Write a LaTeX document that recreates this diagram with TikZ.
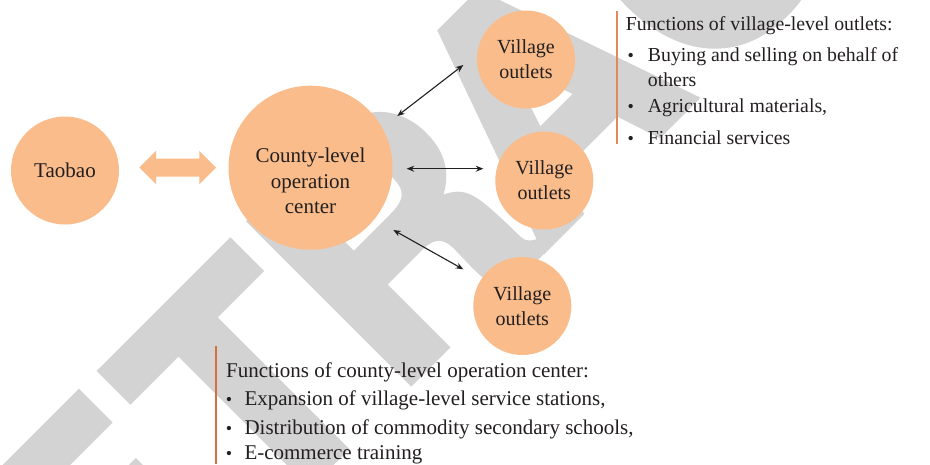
\documentclass[tikz,border=0pt]{standalone}
\usepackage{fontspec}
\setmainfont{Liberation Serif}
\newfontfamily\stampfont{TeX Gyre Heros}[BoldFeatures={FakeBold=3}]
\usetikzlibrary{arrows.meta}

\definecolor{peach}{RGB}{249,188,138}
\definecolor{rule}{RGB}{214,112,58}
\definecolor{rulelight}{RGB}{222,138,90}
\definecolor{stampgray}{RGB}{211,211,211}
\definecolor{ink}{RGB}{35,31,32}

\tikzset{
  hub/.style={circle, fill=peach, draw=none, minimum size=164pt, inner sep=0pt},
  leaf/.style={circle, fill=peach, draw=none, minimum size=98pt, inner sep=0pt,
    align=center, text=ink, font=\fontsize{20}{25}\selectfont},
  site/.style={circle, fill=peach, draw=none, minimum size=108pt, inner sep=0pt,
    text=ink, font=\fontsize{21}{25}\selectfont},
  hubtext/.style={align=center, text=ink, inner sep=0pt, font=\fontsize{21}{25.5}\selectfont},
  link/.style={line width=1.1pt, draw=ink, {Stealth[length=7.5pt,width=6pt]}-{Stealth[length=7.5pt,width=6pt]}},
  listline/.style={anchor=base west, inner sep=0pt, text=ink, font=\fontsize{19.8}{25}\selectfont},
  listlinebig/.style={listline, font=\fontsize{21}{25}\selectfont},
  dot/.style={anchor=base, inner sep=0pt, text=ink, font=\fontsize{18}{25}\selectfont},
  sidebar/.style={line width=1.7pt},
  stamp/.style={anchor=base west, rotate=45, inner sep=0pt, text=stampgray,
    font=\stampfont\bfseries\fontsize{308}{308}\selectfont}
}

\begin{document}
\begin{tikzpicture}[x=1pt, y=-1pt]
  \useasboundingbox (0,0) rectangle (930,464);
  \fill[white] (0,0) rectangle (930,464);

  % watermark lettering behind the diagram, one letter per node along a 45 degree baseline
  \begin{scope}
    \clip (0,0) rectangle (930,464);
    \node[stamp] (wmE) at (105.5,686.2) {E};
    \node[stamp] (wmT) at (258.8,532.9) {T};
    \node[stamp] (wmR) at (393.7,397.7) {R};
    \node[stamp] (wmA) at (539.4,252.3) {A};
    \node[stamp] (wmC) at (699.5,92.2) {C};
  \end{scope}

  % nodes
  \node[site] (tb) at (65,170.5) {Taobao};
  \node[hub] (cc) at (310.5,167.7) {};
  \node[hubtext] (cct) at (310.5,181) {County-level\\operation\\center};
  \node[leaf] (v1) at (526,59.5) {Village\\outlets};
  \node[leaf] (v2) at (544.3,180.5) {Village\\outlets};
  \node[leaf] (v3) at (522.3,306) {Village\\outlets};

  % broad two-way arrow between Taobao and the county centre
  \coordinate (hl) at (139.3,167.5);
  \coordinate (hr) at (216,167.5);
  \fill[peach] (hl) -- ++(16.7,-16.7) -- ++(0,7.7) -- ++(43.3,0) -- ++(0,-7.7)
    -- (hr) -- ++(-16.7,16.7) -- ++(0,-7.7) -- ++(-43.3,0) -- ++(0,7.7) -- cycle;

  % thin two-way links to the village outlets
  \coordinate (a1s) at (397.3,116);
  \coordinate (a1e) at (463.3,65);
  \coordinate (a2s) at (406.7,168.7);
  \coordinate (a2e) at (483.3,168.7);
  \coordinate (a3s) at (393.3,230);
  \coordinate (a3e) at (463.3,269.3);
  \draw[link] (a1s) -- (a1e);
  \draw[link] (a2s) -- (a2e);
  \draw[link] (a3s) -- (a3e);

  % functions of the village-level outlets
  \coordinate (r1t) at (617.3,11);
  \coordinate (r1b) at (617.3,144);
  \draw[sidebar, draw=rulelight] (r1t) -- (r1b);
  \node[listline] (vt) at (625.7,30.7) {Functions of village-level outlets:};
  \node[dot] (vb1) at (630.7,61.7) {\textbullet};
  \node[listline] (vl1) at (647.7,61.7) {Buying and selling on behalf of};
  \node[listline] (vl1b) at (647.7,86.7) {others};
  \node[dot] (vb2) at (630.7,112.7) {\textbullet};
  \node[listline] (vl2) at (647.7,112.7) {Agricultural materials,};
  \node[dot] (vb3) at (630.7,144.3) {\textbullet};
  \node[listline] (vl3) at (647.7,144.3) {Financial services};

  % functions of the county-level operation center
  \coordinate (r2t) at (216,345.7);
  \coordinate (r2b) at (216,464);
  \draw[sidebar, draw=rule] (r2t) -- (r2b);
  \node[listlinebig] (ct) at (226,377.3) {Functions of county-level operation center:};
  \node[dot] (cb1) at (229,405.7) {\textbullet};
  \node[listlinebig] (cl1) at (244.3,405.7) {Expansion of village-level service stations,};
  \node[dot] (cb2) at (229,434.3) {\textbullet};
  \node[listlinebig] (cl2) at (244.3,434.3) {Distribution of commodity secondary schools,};
  \node[dot] (cb3) at (229,459) {\textbullet};
  \node[listlinebig] (cl3) at (244.3,459) {E-commerce training};
\end{tikzpicture}
\end{document}
